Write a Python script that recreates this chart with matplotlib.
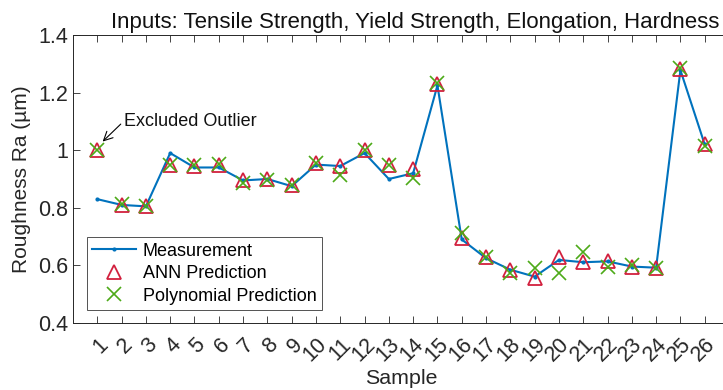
import numpy as np
import matplotlib.pyplot as plt

plt.rcParams['font.family'] = ['Liberation Sans', 'DejaVu Sans']

# Data
samples = np.arange(1, 27)
measurement = [0.83, 0.81, 0.805, 0.99, 0.94, 0.94, 0.895, 0.90, 0.875, 0.95,
               0.945, 0.99, 0.90, 0.92, 1.225, 0.69, 0.625, 0.585, 0.561, 0.619,
               0.611, 0.614, 0.596, 0.592, 1.278, 1.02]
ann_pred = [1.0, 0.81, 0.805, 0.95, 0.945, 0.95, 0.895, 0.90, 0.878, 0.955,
            0.945, 1.0, 0.95, 0.935, 1.23, 0.695, 0.628, 0.585, 0.557, 0.628,
            0.613, 0.616, 0.596, 0.59, 1.282, 1.02]
poly_pred = [1.0, 0.812, 0.805, 0.95, 0.947, 0.953, 0.885, 0.897, 0.88, 0.957,
             0.915, 1.002, 0.95, 0.905, 1.232, 0.714, 0.63, 0.572, 0.591, 0.575,
             0.646, 0.595, 0.603, 0.59, 1.285, 1.015]
tick_labels = [str(i) for i in samples]

c_meas = '#0072BD'
c_ann = '#D2203E'
c_poly = '#4DAA18'

fig = plt.figure(figsize=(7.23, 3.9), dpi=100)
ax = fig.add_axes([73/723, 67/390, (729-73)/723, (355-67)/390])

ax.plot(samples, measurement, '-', color=c_meas, lw=1.5, marker='.', ms=4,
        label='Measurement')
ax.plot(samples, ann_pred, '^', color=c_ann, mfc='none', mew=1.3, ms=9.5,
        ls='none', label='ANN Prediction')
ax.plot(samples, poly_pred, 'x', color=c_poly, mew=1.2, ms=9.5,
        ls='none', label='Polynomial Prediction')

ax.annotate('Excluded Outlier', xy=(1.22, 1.03), xytext=(2.08, 1.10),
            fontsize=13, color='#111111', va='center', ha='left',
            arrowprops=dict(arrowstyle='->', color='black', lw=0.8,
                            mutation_scale=16, relpos=(0, 0.5),
                            shrinkA=0, shrinkB=0))

ax.set_xlim(0, 27)
ax.set_ylim(0.4, 1.4)
ax.set_xticks(samples)
ax.set_xticklabels(tick_labels, rotation=45, ha='right', rotation_mode='anchor')
ax.set_yticks([0.4, 0.6, 0.8, 1.0, 1.2, 1.4])
ax.set_yticklabels(['0.4', '0.6', '0.8', '1', '1.2', '1.4'])
ax.tick_params(axis='both', labelsize=15.5, colors='#262626', direction='in',
               top=True, length=5, width=0.6)
ax.tick_params(axis='x', pad=8)
for s in ax.spines.values():
    s.set_color('#262626')
    s.set_linewidth(0.7)

ax.set_xlabel('Sample', fontsize=15.4, color='#262626', labelpad=2)
ax.set_ylabel('Roughness Ra (µm)', fontsize=15, color='#262626', labelpad=5)
ax.set_title('Inputs: Tensile Strength, Yield Strength, Elongation, Hardness',
             fontsize=16, color='#111111', pad=5, x=0.522)

leg = ax.legend(loc='lower left', bbox_to_anchor=(14/656, 13/288), fontsize=13,
                frameon=True, fancybox=False, edgecolor='#262626',
                borderaxespad=0, borderpad=0.3, labelspacing=0.3,
                handlelength=2.4, handletextpad=0.4)
leg.get_frame().set_linewidth(0.7)

fig.savefig('out.png', dpi=100)
